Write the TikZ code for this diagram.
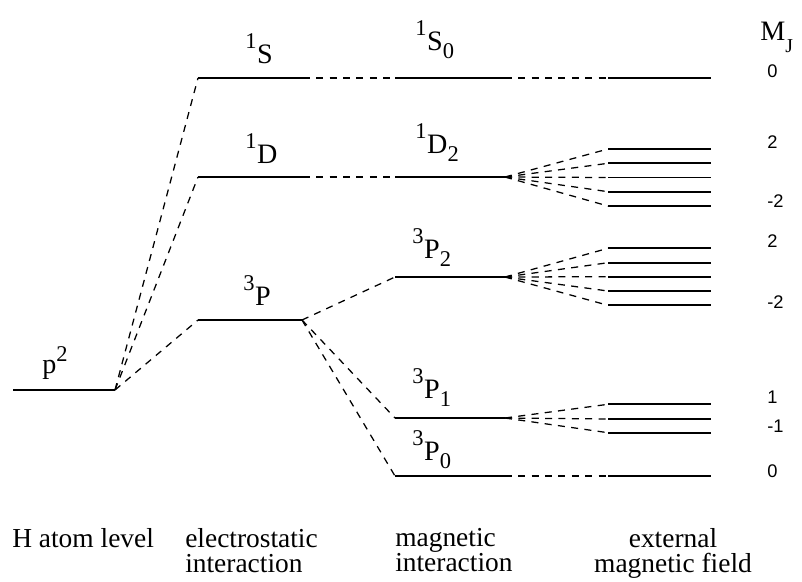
\documentclass[tikz,border=0pt]{standalone}
\usepackage{fontspec}
\setmainfont{Liberation Serif}
\newfontfamily\numfont{Liberation Sans}

\newcommand{\lvlfont}{\fontsize{20}{20}\selectfont}
\newcommand{\supfont}{\fontsize{16}{16}\selectfont}
\newcommand{\capfont}{\fontsize{19.5}{18}\selectfont}
% term symbol: multiplicity, letter, J
\newcommand{\term}[3]{\raisebox{10.5pt}{\supfont #1}\kern0.5pt#2\raisebox{-6pt}{\supfont #3}}

\begin{document}
\begin{tikzpicture}[
  x=0.025cm, y=-0.025cm,
  every node/.style={inner sep=0pt},
  level/.style={line width=1.3pt},
  link/.style={line width=0.9pt, dash pattern=on 5pt off 4.5pt},
  lab/.style={anchor=base west, font=\lvlfont},
  mj/.style={anchor=base west, font=\numfont\fontsize{13}{13}\selectfont},
  caption/.style={font=\capfont, align=left, anchor=north west},
]
  \useasboundingbox (0,0) rectangle (802,581);

  % H atom level
  \draw[level] (13,390) coordinate (p-w) -- (115,390) coordinate (p-e);
  \node[lab] (p-lab) at (42,373) {p\raisebox{8pt}{\supfont 2}};

  % electrostatic interaction
  \draw[level] (198,78) coordinate (S-w) -- (303,78) coordinate (S-e);
  \draw[level] (198,177) coordinate (D-w) -- (303,177) coordinate (D-e);
  \draw[level] (198,320) coordinate (P-w) -- (302,320) coordinate (P-e);
  \node[lab] (S-lab) at (245,63) {\term{1}{S}{}};
  \node[lab] (D-lab) at (245,163) {\term{1}{D}{}};
  \node[lab] (P-lab) at (243,305) {\term{3}{P}{}};

  % magnetic interaction
  \draw[level] (395,78) coordinate (S0-w) -- (505,78) coordinate (S0-e);
  \draw[level] (395,177) coordinate (D2-w) -- (505,177) coordinate (D2-e);
  \draw[level] (395,277) coordinate (P2-w) -- (505,277) coordinate (P2-e);
  \draw[level] (395,418) coordinate (P1-w) -- (505,418) coordinate (P1-e);
  \draw[level] (395,476) coordinate (P0-w) -- (505,476) coordinate (P0-e);
  \node[lab] (S0-lab) at (415,50) {\term{1}{S}{0}};
  \node[lab] (D2-lab) at (415,153) {\term{1}{D}{2}};
  \node[lab] (P2-lab) at (412,258) {\term{3}{P}{2}};
  \node[lab] (P1-lab) at (412,398) {\term{3}{P}{1}};
  \node[lab] (P0-lab) at (412,460) {\term{3}{P}{0}};

  \draw[link] (p-e) -- (S-w);
  \draw[link] (p-e) -- (D-w);
  \draw[link] (p-e) -- (P-w);
  \draw[link] (S-e) -- (S0-w);
  \draw[link] (D-e) -- (D2-w);
  \draw[link] (P-e) -- (P2-w);
  \draw[link] (P-e) -- (P1-w);
  \draw[link] (P-e) -- (P0-w);

  % external magnetic field
  \draw[level] (608,78) coordinate (S0z-w) -- (711,78);
  \draw[level] (608,476) coordinate (P0z-w) -- (711,476);
  \draw[link] (S0-e) -- (S0z-w);
  \draw[link] (P0-e) -- (P0z-w);
  \foreach \i/\y in {1/149,2/163.3,3/177.5,4/191.7,5/206} {
    \draw[level] (608,\y) coordinate (D2z\i-w) -- (711,\y);
    \draw[link] (D2-e) -- (D2z\i-w);
  }
  \foreach \i/\y in {1/248.3,2/262.7,3/276.7,4/291,5/305.3} {
    \draw[level] (608,\y) coordinate (P2z\i-w) -- (711,\y);
    \draw[link] (P2-e) -- (P2z\i-w);
  }
  \foreach \i/\y in {1/404.3,2/419,3/432.7} {
    \draw[level] (608,\y) coordinate (P1z\i-w) -- (711,\y);
    \draw[link] (P1-e) -- (P1z\i-w);
  }

  % M_J values
  \node[lab] (mj-lab) at (760,40) {M\raisebox{-9pt}{\fontsize{14}{14}\selectfont J}};
  \foreach \v/\y in {0/77,2/148,-2/207,2/247,-2/308,1/403,-1/432,0/477}
    \node[mj] (mj-\y) at (767,\y) {\v};

  % column captions
  \node[caption, anchor=base west] (h-cap) at (12,547) {H atom level};
  \node[caption] (es-cap) at (185,528) {electrostatic\\interaction};
  \node[caption] (mag-cap) at (395,528) {magnetic\\interaction};
  \node[caption, align=center, anchor=north] (ext-cap) at (673,528) {external\\magnetic field};
\end{tikzpicture}
\end{document}
